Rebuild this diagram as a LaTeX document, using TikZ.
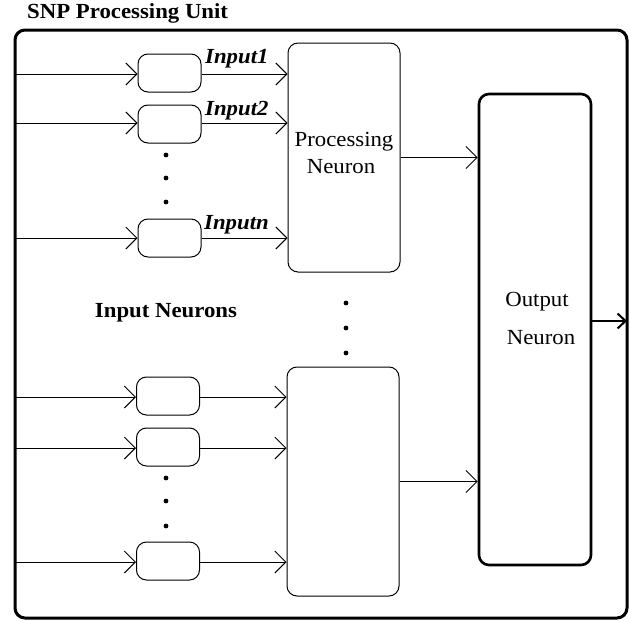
\documentclass[tikz,border=0pt]{standalone}
\usepackage{fontspec}
\setmainfont[FakeStretch=1.06]{Liberation Serif}
\usetikzlibrary{arrows.meta}

\begin{document}
\begin{tikzpicture}[x=1pt,y=-1pt,
  inneur/.style={draw, rounded corners=10pt, line width=1pt, minimum width=63pt, minimum height=38pt, inner sep=0pt},
  procneur/.style={draw, rounded corners=10pt, line width=1pt, minimum width=112pt, minimum height=229pt, inner sep=0pt},
  outneur/.style={draw, rounded corners=10pt, line width=2.6pt, minimum width=112pt, minimum height=471pt, inner sep=0pt},
  conn/.style={line width=1pt, -{Straight Barb[length=11pt,width=22pt]}},
  txt/.style={font=\fontsize{21.5}{24}\selectfont, inner sep=0pt, anchor=base}]
  \useasboundingbox (0,0) rectangle (630,621);

  % outer unit
  \draw [line width=3pt, rounded corners=10pt] (15,30) rectangle (627,618);
  \node[txt, anchor=base west] (title) at (27,19) {\bfseries SNP Processing Unit};

  % input neurons
  \node[inneur] (i1) at (169.5,73) {};
  \node[inneur] (i2) at (169.5,124) {};
  \node[inneur] (in) at (169.5,238) {};
  \node[inneur] (j1) at (168,396) {};
  \node[inneur] (j2) at (168,447) {};
  \node[inneur] (jn) at (168,561) {};

  % processing and output neurons
  \node[procneur] (p1) at (344,157.5) {};
  \node[procneur] (p2) at (343,481.5) {};
  \node[outneur] (out) at (535,329.5) {};

  \node[txt] (p1a) at (344,146) {Processing};
  \node[txt] (p1b) at (341,173) {Neuron};
  \node[txt] (outa) at (537,306) {Output};
  \node[txt] (outb) at (541,344) {Neuron};
  \node[txt] (inlbl) at (166,317) {\bfseries Input Neurons};

  \node[txt, anchor=base west] (l1) at (205,63) {\bfseries\itshape Input1};
  \node[txt, anchor=base west] (l2) at (205,115) {\bfseries\itshape Input2};
  \node[txt, anchor=base west] (ln) at (204,229) {\bfseries\itshape Inputn};

  % left ends on the unit border
  \coordinate (e1) at (15,74);
  \coordinate (e2) at (15,123);
  \coordinate (en) at (15,238);
  \coordinate (f1) at (15,397);
  \coordinate (f2) at (15,448);
  \coordinate (fn) at (15,562);
  \coordinate (outR) at (627,321);

  \draw [conn] (e1) -- (e1 -| i1.west);
  \draw [conn] (e2) -- (e2 -| i2.west);
  \draw [conn] (en) -- (en -| in.west);
  \draw [conn] (f1) -- (f1 -| j1.west);
  \draw [conn] (f2) -- (f2 -| j2.west);
  \draw [conn] (fn) -- (fn -| jn.west);

  \draw [conn] (e1 -| i1.east) -- (e1 -| p1.west);
  \draw [conn] (e2 -| i2.east) -- (e2 -| p1.west);
  \draw [conn] (en -| in.east) -- (en -| p1.west);
  \draw [conn] (f1 -| j1.east) -- (f1 -| p2.west);
  \draw [conn] (f2 -| j2.east) -- (f2 -| p2.west);
  \draw [conn] (fn -| jn.east) -- (fn -| p2.west);

  \draw [conn] (p1.east) -- (p1.east -| out.west);
  \draw [conn] (p2.east) -- (p2.east -| out.west);
  \draw [line width=2pt, -{Straight Barb[length=8pt,width=15pt]}] (outR -| out.east) -- (outR);

  % dots
  \foreach \y in {155,178,202} \fill (166,\y) circle (2.4pt);
  \foreach \y in {478,501,526} \fill (166,\y) circle (2.4pt);
  \foreach \y in {303,328,353} \fill (346,\y) circle (2.4pt);
\end{tikzpicture}
\end{document}
